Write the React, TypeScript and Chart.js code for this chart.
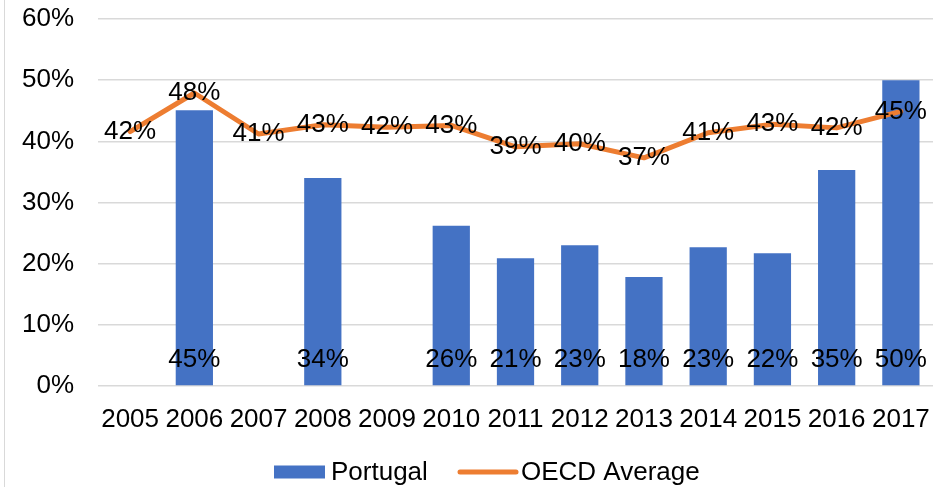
import React, { useEffect, useRef } from "react";
import { Chart, registerables } from "chart.js";

Chart.register(...registerables);

const years = ["2005", "2006", "2007", "2008", "2009", "2010", "2011", "2012", "2013", "2014", "2015", "2016", "2017"];
const portugal: (number | null)[] = [null, 45.1, null, 34.0, null, 26.2, 20.9, 23.0, 17.8, 22.7, 21.7, 35.3, 50.0];
const oecdAverage: number[] = [41.6, 47.9, 41.2, 42.7, 42.3, 42.6, 39.1, 39.6, 37.3, 41.4, 42.8, 42.2, 44.9];
const seriesNames = ["Portugal", "OECD Average"];
const yTicks = [0, 10, 20, 30, 40, 50, 60];

const BLUE = "#4472C4";
const ORANGE = "#ED7D31";
const FONT = "'Liberation Sans', Arial, sans-serif";
const FS = 26;

const overlay = {
  id: "overlay",
  afterDatasetsDraw(chart: any) {
    const ctx = chart.ctx;
    ctx.save();
    ctx.font = `${FS}px ${FONT}`;
    ctx.fillStyle = "#000";
    ctx.textAlign = "center";
    ctx.textBaseline = "middle";
    const barMeta = chart.getDatasetMeta(1);
    barMeta.data.forEach((el: any, i: number) => {
      const v = portugal[i];
      if (v == null) return;
      ctx.fillText(Math.round(v) + "%", el.x, el.base - 25);
    });
    const lineMeta = chart.getDatasetMeta(0);
    lineMeta.data.forEach((el: any, i: number) => {
      ctx.fillText(Math.round(oecdAverage[i]) + "%", el.x, el.y);
    });
    ctx.restore();
  },
  afterDraw(chart: any) {
    const ctx = chart.ctx;
    ctx.save();
    ctx.strokeStyle = "#d9d9d9";
    ctx.lineWidth = 1;
    ctx.beginPath();
    ctx.moveTo(4.5, 0);
    ctx.lineTo(4.5, chart.height);
    ctx.stroke();
    ctx.font = `${FS}px ${FONT}`;
    ctx.textBaseline = "middle";
    ctx.textAlign = "left";
    const ly = 472;
    ctx.fillStyle = BLUE;
    ctx.fillRect(274, ly - 6.5, 51, 13);
    ctx.fillStyle = "#000";
    ctx.fillText(seriesNames[0], 331, ly + 1);
    ctx.strokeStyle = ORANGE;
    ctx.lineWidth = 5;
    ctx.lineCap = "round";
    ctx.beginPath();
    ctx.moveTo(460, ly);
    ctx.lineTo(516, ly);
    ctx.stroke();
    ctx.fillText(seriesNames[1], 521, ly + 1);
    ctx.restore();
  },
};

export default function App() {
  const ref = useRef<HTMLCanvasElement>(null);
  useEffect(() => {
    document.body.style.margin = "0";
    const chart = new Chart(ref.current!, {
      type: "bar",
      data: {
        labels: years,
        datasets: [
          {
            type: "line",
            label: seriesNames[1],
            data: oecdAverage,
            borderColor: ORANGE,
            backgroundColor: ORANGE,
            borderWidth: 5,
            pointRadius: 0,
            tension: 0,
            order: 0,
            borderCapStyle: "round",
            borderJoinStyle: "round",
          } as any,
          {
            type: "bar",
            label: seriesNames[0],
            data: portugal,
            backgroundColor: BLUE,
            barPercentage: 0.58,
            categoryPercentage: 1,
            order: 1,
          },
        ],
      },
      options: {
        animation: false,
        responsive: false,
        layout: { padding: { top: 19, right: 19, bottom: 51, left: 0 } },
        plugins: { legend: { display: false }, tooltip: { enabled: false } },
        scales: {
          x: {
            grid: { display: false },
            border: { display: false },
            ticks: { color: "#000", font: { family: FONT, size: FS }, padding: 10, maxRotation: 0, autoSkip: false },
            afterFit: (s: any) => { s.height = 50; s.paddingLeft = 0; s.paddingRight = 0; },
          },
          y: {
            min: 0,
            max: 60,
            afterBuildTicks: (s: any) => { s.ticks = yTicks.map((v) => ({ value: v })); },
            grid: { color: "#d9d9d9", lineWidth: 1.5, drawTicks: false },
            border: { display: false },
            ticks: { color: "#000", font: { family: FONT, size: FS }, padding: 24, callback: (v: any) => v + "%" },
            afterFit: (s: any) => { s.width = 98; s.paddingTop = 0; s.paddingBottom = 0; },
          },
        },
      },
      plugins: [overlay],
    });
    return () => chart.destroy();
  }, []);
  return <canvas ref={ref} width={952} height={487} style={{ display: "block" }} />;
}
